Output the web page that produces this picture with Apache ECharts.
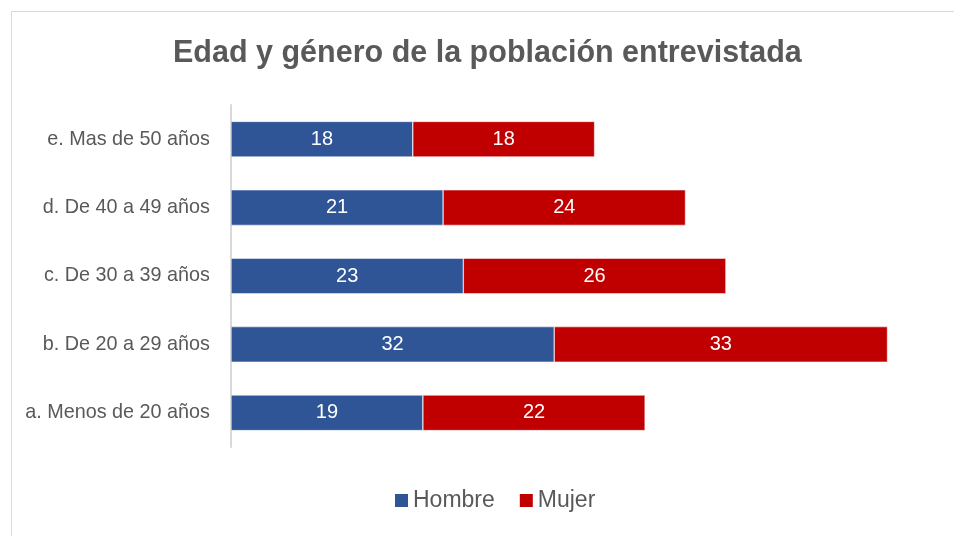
<!DOCTYPE html>
<html><head><meta charset="utf-8">
<script src="https://cdn.jsdelivr.net/npm/echarts@6/dist/echarts.min.js"></script>
<style>html,body{margin:0;padding:0;background:#fff}#c{width:954px;height:536px}</style>
</head><body><div id="c"></div>
<script>
const categories = ["a. Menos de 20 años","b. De 20 a 29 años","c. De 30 a 39 años","d. De 40 a 49 años","e. Mas de 50 años"];
const hombre = [19, 32, 23, 21, 18];
const mujer = [22, 33, 26, 24, 18];
const seriesNames = ["Hombre", "Mujer"];
const FONT = '"Liberation Sans", Arial, sans-serif';
const chart = echarts.init(document.getElementById('c'));
chart.setOption({
  animation: false,
  textStyle: {fontFamily: FONT},
  graphic: [{type: 'rect', left: 9, top: 9, shape: {width: 1000, height: 1000}, style: {fill: 'none', stroke: '#d9d9d9', lineWidth: 1}}],
  title: {text: 'Edad y género de la población entrevistada', left: 173, top: 38, padding: 0,
    textStyle: {fontFamily: FONT, fontSize: 30.5, fontWeight: 'bold', color: '#595959'}},
  legend: {top: 489, left: 393, padding: 0, itemWidth: 15, itemHeight: 15, itemGap: 23, icon: 'rect',
    textStyle: {fontFamily: FONT, fontSize: 23, color: '#595959', padding: [0,0,0,-1]}, data: seriesNames},
  grid: {left: 231, top: 105, width: 707, height: 342, containLabel: false},
  xAxis: {type: 'value', min: 0, max: 70, show: false},
  yAxis: {type: 'category', data: categories,
    axisLine: {show: true, lineStyle: {color: '#d9d9d9', width: 2}},
    axisTick: {show: false},
    axisLabel: {fontFamily: FONT, fontSize: 19.8, color: '#595959', margin: 21}},
  series: [
    {name: seriesNames[0], type: 'bar', stack: 't', data: hombre, barWidth: '52%',
     itemStyle: {color: '#2F5597', borderColor: '#fff', borderWidth: 0.5},
     label: {show: true, position: 'inside', color: '#fff', fontSize: 20, fontFamily: FONT}},
    {name: seriesNames[1], type: 'bar', stack: 't', data: mujer, barWidth: '52%',
     itemStyle: {color: '#C00000', borderColor: '#fff', borderWidth: 0.5},
     label: {show: true, position: 'inside', color: '#fff', fontSize: 20, fontFamily: FONT}}
  ]
});
</script></body></html>
